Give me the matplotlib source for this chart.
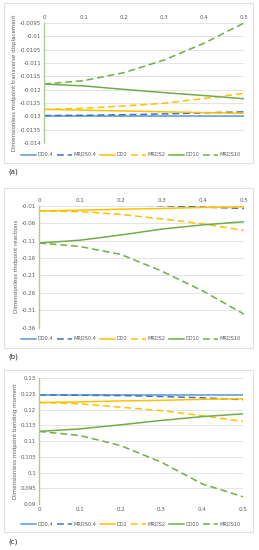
import matplotlib.pyplot as plt
from matplotlib.patches import Rectangle

x = [0, 0.1, 0.2, 0.3, 0.4, 0.5]
series_names = ['DD0.4', 'MRDS0.4', 'DD2', 'MRDS2', 'DD10', 'MRDS10']

# (a) dimensionless midpoint transverse displacement
disp_dd04 = [-0.01297, -0.01297, -0.01297, -0.01297, -0.01297, -0.01297]
disp_mrds04 = [-0.01297, -0.01296, -0.01294, -0.01291, -0.01287, -0.01283]
disp_dd2 = [-0.01274, -0.01277, -0.01280, -0.01283, -0.01286, -0.01289]
disp_mrds2 = [-0.01274, -0.01270, -0.01261, -0.01251, -0.01233, -0.01214]
disp_dd10 = [-0.01179, -0.01186, -0.01199, -0.01211, -0.01222, -0.01234]
disp_mrds10 = [-0.01179, -0.01166, -0.01136, -0.01089, -0.01026, -0.00950]

# (b) dimensionless midpoint reactions
reac_dd04 = [-0.004, -0.004, -0.004, -0.004, -0.004, -0.004]
reac_mrds04 = [-0.004, -0.005, -0.007, -0.010, -0.014, -0.018]
reac_dd2 = [-0.025, -0.023, -0.020, -0.018, -0.015, -0.013]
reac_mrds2 = [-0.025, -0.027, -0.035, -0.048, -0.062, -0.081]
reac_dd10 = [-0.117, -0.109, -0.094, -0.077, -0.065, -0.056]
reac_mrds10 = [-0.117, -0.127, -0.150, -0.198, -0.255, -0.321]

# (c) dimensionless midpoint bending moment
mom_dd04 = [0.1248, 0.1248, 0.1248, 0.1248, 0.1248, 0.1248]
mom_mrds04 = [0.1247, 0.1246, 0.1245, 0.1242, 0.1238, 0.1232]
mom_dd2 = [0.1223, 0.1225, 0.1228, 0.1230, 0.1233, 0.1235]
mom_mrds2 = [0.1223, 0.1219, 0.1208, 0.1197, 0.1181, 0.1163]
mom_dd10 = [0.1131, 0.1139, 0.1152, 0.1166, 0.1178, 0.1187]
mom_mrds10 = [0.1131, 0.1118, 0.1086, 0.1033, 0.0964, 0.0923]

colors = ['#5B9BD5', '#4472C4', '#FFC000', '#FFC000', '#70AD47', '#70AD47']
styles = ['-', '--', '-', '--', '-', '--']

fs = 4
grid_c = '#d9d9d9'
text_c = '#595959'

fig = plt.figure(figsize=(2.59, 5.5), dpi=100)
W, H = 259, 550


def px_axes(left, top, right, bottom):
    return fig.add_axes([left / W, 1 - bottom / H, (right - left) / W, (bottom - top) / H])


def frame(left, top, right, bottom):
    fig.patches.append(Rectangle((left / W, 1 - bottom / H), (right - left) / W,
                                 (bottom - top) / H, transform=fig.transFigure,
                                 fill=False, edgecolor=grid_c, lw=0.6))


def draw_panel(ax, data, ylim, yticks, ylabel, top_ticks):
    for vals, c, ls, name in zip(data, colors, styles, series_names):
        if ls == '--':
            ax.plot(x, vals, color=c, lw=1.1, label=name, dashes=(4.5, 2.5))
        else:
            ax.plot(x, vals, color=c, lw=1.1, label=name)
    ax.set_xlim(0, 0.5)
    ax.set_ylim(*ylim)
    ax.set_yticks(yticks)
    ax.set_yticklabels([('%g' % t) for t in yticks])
    ax.set_xticks(x)
    ax.set_xticklabels(['0', '0.1', '0.2', '0.3', '0.4', '0.5'])
    ax.grid(axis='y', color=grid_c, lw=0.5)
    ax.set_axisbelow(True)
    for s in ['top', 'right', 'bottom']:
        ax.spines[s].set_visible(False)
    ax.spines['left'].set_color('#a9d18e')
    ax.spines['left'].set_linewidth(1.0)
    ax.tick_params(length=0, labelsize=fs, colors=text_c, pad=2)
    if top_ticks:
        ax.xaxis.tick_top()
    ax.set_ylabel(ylabel, fontsize=fs, color=text_c, labelpad=2)


def legend_row(ax, y):
    h, l = ax.get_legend_handles_labels()
    fig.legend(h, l, loc='center', bbox_to_anchor=(131 / W, 1 - y / H), ncol=6,
               frameon=False, fontsize=3.6, handlelength=3.0, columnspacing=0.7,
               handletextpad=0.35, labelcolor=text_c, borderpad=0, borderaxespad=0)


# (a)
frame(4, 3, 253, 163)
ax1 = px_axes(44, 23, 244, 143)
draw_panel(ax1, [disp_dd04, disp_mrds04, disp_dd2, disp_mrds2, disp_dd10, disp_mrds10],
           (-0.014, -0.0095),
           [-0.014, -0.0135, -0.013, -0.0125, -0.012, -0.0115, -0.011, -0.0105, -0.01, -0.0095],
           'Dimensionless midpoint transverse displacement', True)
legend_row(ax1, 155)
fig.text(8 / W, 1 - 172 / H, '(a)', fontsize=5, va='center', color='#222222')

# (b)
frame(4, 188, 253, 348)
ax2 = px_axes(39, 205.7, 244, 327.7)
draw_panel(ax2, [reac_dd04, reac_mrds04, reac_dd2, reac_mrds2, reac_dd10, reac_mrds10],
           (-0.36, -0.01),
           [-0.36, -0.31, -0.26, -0.21, -0.16, -0.11, -0.06, -0.01],
           'Dimensionless midpoint reactions', True)
legend_row(ax2, 339)
fig.text(8 / W, 1 - 357 / H, '(b)', fontsize=5, va='center', color='#222222')

# (c)
frame(4, 370, 253, 532)
ax3 = px_axes(39, 378.3, 243, 504)
draw_panel(ax3, [mom_dd04, mom_mrds04, mom_dd2, mom_mrds2, mom_dd10, mom_mrds10],
           (0.09, 0.13),
           [0.09, 0.095, 0.1, 0.105, 0.11, 0.115, 0.12, 0.125, 0.13],
           'Dimensionless midpoint bending moment', False)
legend_row(ax3, 524)
fig.text(8 / W, 1 - 542 / H, '(c)', fontsize=5, va='center', color='#222222')

fig.savefig('out.png', dpi=100)
